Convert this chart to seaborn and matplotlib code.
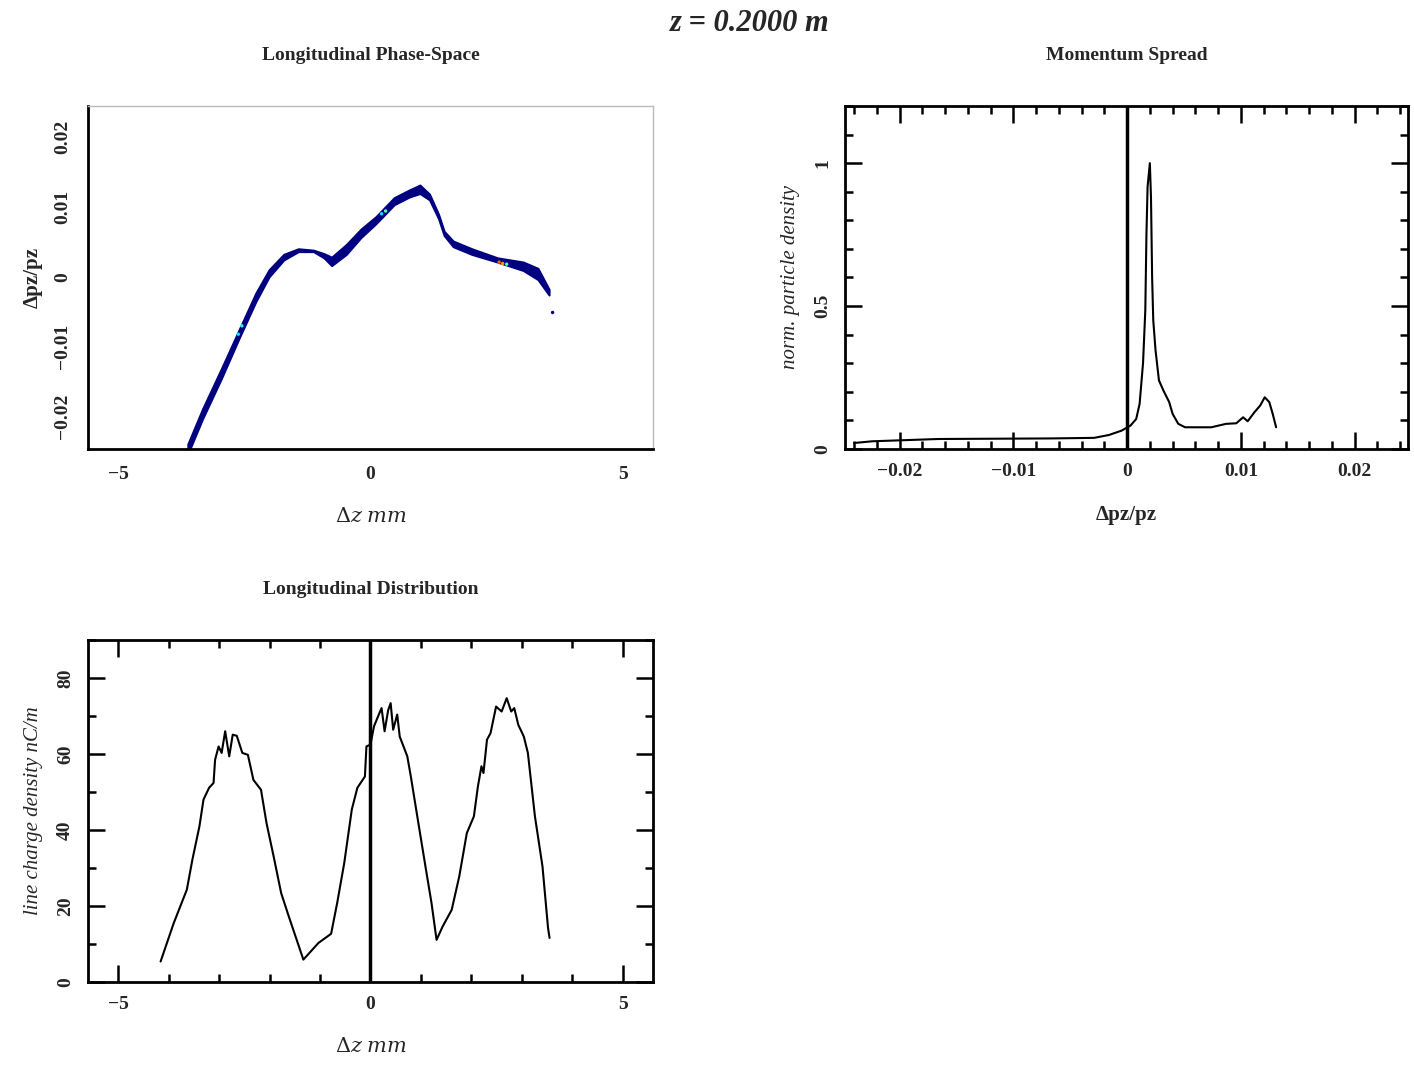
import numpy as np
import pandas as pd
import matplotlib
matplotlib.use("Agg")
import matplotlib.pyplot as plt
import seaborn as sns
from matplotlib.ticker import MultipleLocator

# longitudinal phase space: ridge of the particle cloud (centre, half width)
ps_dz = [-3.62, -3.33, -2.96, -2.60, -2.27, -2.01, -1.72, -1.43, -1.13, -0.92,
         -0.77, -0.48, -0.19, 0.11, 0.47, 0.77, 0.98, 1.17, 1.35, 1.46,
         1.64, 2.01, 2.52, 3.03, 3.32, 3.54]
ps_dp = [-0.0246, -0.0196, -0.0139, -0.0081, -0.0029, 0.0005, 0.0028, 0.0038, 0.0037, 0.0030,
         0.0022, 0.0039, 0.0062, 0.0081, 0.0108, 0.0119, 0.0125, 0.0114, 0.0086, 0.0062,
         0.0047, 0.0036, 0.0024, 0.0015, 0.0004, -0.0022]
ps_hw = [0.0007, 0.0007, 0.0007, 0.0006, 0.0006, 0.0005, 0.0004, 0.0002, 0.0001, 0.0003,
         0.0006, 0.0007, 0.0006, 0.0005, 0.0005, 0.0005, 0.0006, 0.0004, 0.0003, 0.0003,
         0.0004, 0.0004, 0.0003, 0.0006, 0.0008, 0.0004]
# few dense spots (colour = relative density)
spot_dz = [-2.62, -2.55, 0.22, 0.30, 2.55, 2.62, 2.70, 3.61]
spot_dp = [-0.0082, -0.0070, 0.0090, 0.0094, 0.0021, 0.0019, 0.0018, -0.0051]
spot_val = [0.35, 0.4, 0.35, 0.45, 0.8, 0.75, 0.45, 0.0]

# momentum spread
mom_x = [-0.0240, -0.0224, -0.0166, -0.0067, -0.0029, -0.0016, -0.0005, 0.0003, 0.0008, 0.0011,
         0.0014, 0.0016, 0.0017, 0.0018, 0.0020, 0.0021, 0.0022, 0.0023, 0.0025, 0.0028,
         0.0032, 0.0037, 0.0040, 0.0045, 0.0051, 0.0074, 0.0087, 0.0096, 0.0102, 0.0106,
         0.0112, 0.0117, 0.0121, 0.0125, 0.0128, 0.0131]
mom_y = [0.021, 0.027, 0.035, 0.037, 0.039, 0.049, 0.064, 0.082, 0.105, 0.158,
         0.30, 0.485, 0.75, 0.917, 1.0, 0.88, 0.60, 0.45, 0.345, 0.24,
         0.204, 0.164, 0.123, 0.088, 0.076, 0.076, 0.088, 0.090, 0.111, 0.097,
         0.129, 0.152, 0.181, 0.164, 0.123, 0.076]

# longitudinal distribution
ld_x = [-4.16, -3.90, -3.64, -3.53, -3.39, -3.31, -3.20, -3.11, -3.08, -3.01,
        -2.95, -2.88, -2.80, -2.73, -2.65, -2.54, -2.43, -2.32, -2.17, -2.06,
        -1.92, -1.77, -1.62, -1.33, -1.03, -0.78, -0.66, -0.52, -0.37, -0.26,
        -0.11, -0.08, 0.00, 0.07, 0.15, 0.22, 0.28, 0.35, 0.40, 0.45,
        0.53, 0.58, 0.73, 0.80, 0.95, 1.10, 1.21, 1.31, 1.43, 1.61,
        1.76, 1.91, 2.05, 2.13, 2.20, 2.24, 2.31, 2.38, 2.49, 2.60,
        2.70, 2.79, 2.85, 2.93, 3.04, 3.12, 3.26, 3.41, 3.52, 3.55]
ld_y = [5.4, 15.5, 24.3, 32.2, 41.0, 48.0, 51.1, 52.4, 58.5, 62.0,
        60.3, 66.0, 59.4, 65.1, 64.8, 60.3, 59.8, 53.2, 50.6, 41.8,
        33.1, 23.4, 17.3, 5.9, 10.3, 12.7, 20.8, 31.3, 45.4, 51.1,
        54.1, 62.0, 62.5, 67.3, 69.9, 72.1, 66.0, 71.5, 73.4, 66.4,
        70.4, 64.6, 59.4, 54.1, 41.8, 29.6, 20.8, 11.1, 14.6, 19.0,
        27.8, 39.2, 43.6, 51.5, 56.8, 55.0, 63.8, 65.5, 72.5, 71.2,
        74.7, 71.2, 72.1, 67.7, 64.6, 60.3, 43.6, 30.4, 14.2, 11.6]

sns.set_theme(style="white")
plt.rcParams['font.family'] = ['Liberation Serif', 'DejaVu Serif']
plt.rcParams['mathtext.fontset'] = 'dejavuserif'

fig = plt.figure(figsize=(14.14, 10.65), dpi=100)
ax1 = fig.add_axes([0.0622, 0.5784, 0.3996, 0.3221])
ax2 = fig.add_axes([0.5976, 0.5784, 0.3982, 0.3221])
ax3 = fig.add_axes([0.0622, 0.0779, 0.3996, 0.3211])

title_font = dict(fontsize=14, fontweight='bold', pad=33)


def pg_style(ax):
    for s in ax.spines.values():
        s.set_color('black')
        s.set_linewidth(2)
    ax.tick_params(which='both', direction='in', bottom=True, left=True,
                   top=True, right=True, color='black', width=1.8,
                   labelsize=14, pad=10)
    ax.tick_params(which='major', length=12)
    ax.tick_params(which='minor', length=6)
    for lab in ax.get_xticklabels() + ax.get_yticklabels():
        lab.set_fontweight('bold')


# phase space
navy = plt.cm.jet(0.0)
lo = np.array(ps_dp) - np.array(ps_hw)
hi = np.array(ps_dp) + np.array(ps_hw)
ax1.fill_between(ps_dz, lo, hi, color=navy, lw=1.5, edgecolor=navy)
ax1.scatter(spot_dz, spot_dp, c=spot_val, cmap='jet', vmin=0, vmax=1, s=6, lw=0, zorder=3)
ax1.set_xlim(-5.6, 5.6)
ax1.set_ylim(-0.0246, 0.0244)
ax1.set_xticks([-5, 0, 5])
ax1.set_yticks([-0.02, -0.01, 0, 0.01, 0.02])
ax1.set_yticklabels(['\u22120.02', '\u22120.01', '0', '0.01', '0.02'])
ax1.set_xticklabels(['\u22125', '0', '5'])
for side in ['top', 'right']:
    ax1.spines[side].set_color('#bbbbbb')
    ax1.spines[side].set_linewidth(1)
for side in ['left', 'bottom']:
    ax1.spines[side].set_color('black')
    ax1.spines[side].set_linewidth(2)
ax1.tick_params(length=0, labelsize=14, pad=12)
for lab in ax1.get_xticklabels() + ax1.get_yticklabels():
    lab.set_fontweight('bold')
plt.setp(ax1.get_yticklabels(), rotation=90, va='center')
ax1.set_xlabel(r'$\Delta z$ $mm$', fontsize=15, labelpad=18)
ax1.set_ylabel('\u0394pz/pz', fontsize=15, fontweight='bold', labelpad=8)
ax1.set_title('Longitudinal Phase-Space', **title_font)

# momentum spread
mom = pd.DataFrame({'dp': mom_x, 'dens': mom_y})
sns.lineplot(data=mom, x='dp', y='dens', ax=ax2, color='black', lw=1.5,
             sort=False, estimator=None)
ax2.axvline(0, color='black', lw=2.5)
ax2.set_xlim(-0.0248, 0.0247)
ax2.set_ylim(0, 1.2)
ax2.set_xticks([-0.02, -0.01, 0, 0.01, 0.02])
ax2.set_xticklabels(['\u22120.02', '\u22120.01', '0', '0.01', '0.02'])
ax2.set_yticks([0, 0.5, 1])
ax2.set_yticklabels(['0', '0.5', '1'])
ax2.xaxis.set_minor_locator(MultipleLocator(0.002))
ax2.yaxis.set_minor_locator(MultipleLocator(0.1))
pg_style(ax2)
plt.setp(ax2.get_yticklabels(), rotation=90, va='center')
ax2.set_xlabel('\u0394pz/pz', fontsize=15, fontweight='bold', labelpad=18)
ax2.set_ylabel('norm. particle density', fontsize=15, style='italic', labelpad=10)
ax2.set_title('Momentum Spread', **title_font)

# longitudinal distribution
ld = pd.DataFrame({'dz': ld_x, 'lcd': ld_y})
sns.lineplot(data=ld, x='dz', y='lcd', ax=ax3, color='black', lw=1.5,
             sort=False, estimator=None)
ax3.axvline(0, color='black', lw=2.5)
ax3.set_xlim(-5.6, 5.6)
ax3.set_ylim(0, 90)
ax3.set_xticks([-5, 0, 5])
ax3.set_xticklabels(['\u22125', '0', '5'])
ax3.set_yticks([0, 20, 40, 60, 80])
ax3.xaxis.set_minor_locator(MultipleLocator(1))
ax3.yaxis.set_minor_locator(MultipleLocator(10))
pg_style(ax3)
plt.setp(ax3.get_yticklabels(), rotation=90, va='center')
ax3.set_xlabel(r'$\Delta z$ $mm$', fontsize=15, labelpad=18)
ax3.set_ylabel('line charge density nC/m', fontsize=15, style='italic', labelpad=10)
ax3.set_title('Longitudinal Distribution', **title_font)

fig.text(0.53, 0.978, 'z = 0.2000 m', ha='center', va='center',
         fontsize=22, style='italic', fontweight='bold')

fig.savefig('out.png', dpi=100)
